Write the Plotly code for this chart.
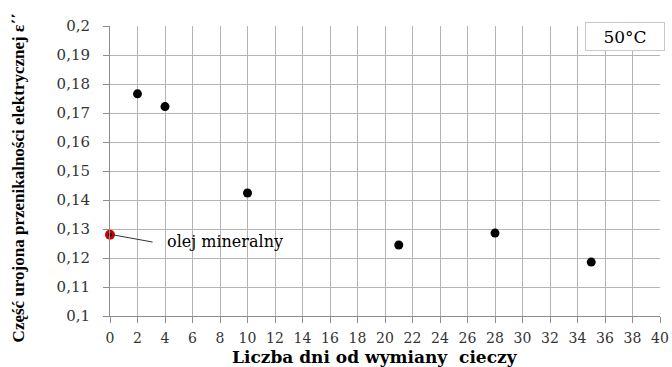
import plotly.graph_objects as go

days = [2, 4, 10, 21, 28, 35]
eps = [0.1766, 0.1722, 0.1424, 0.1245, 0.1286, 0.1186]
ref_day = [0]
ref_eps = [0.128]

xticks = list(range(0, 41, 2))
xticktext = [str(v) for v in xticks]
yticks = [round(0.1 + 0.01 * i, 2) for i in range(11)]
yticktext = [f"{v:g}".replace(".", ",") for v in yticks]

SERIF = "DejaVu Serif, serif"
TIMES = "Liberation Serif, Times New Roman, serif"

fig = go.Figure()
fig.add_trace(go.Scatter(x=days, y=eps, mode="markers",
                         marker=dict(color="black", size=9, symbol="circle"),
                         showlegend=False, cliponaxis=False))
fig.add_trace(go.Scatter(x=ref_day, y=ref_eps, mode="markers",
                         marker=dict(color="#d00000", size=10, symbol="circle"),
                         showlegend=False, cliponaxis=False))
fig.add_trace(go.Scatter(x=ref_day, y=ref_eps, mode="markers",
                         marker=dict(color="#200000", size=4, symbol="circle"),
                         showlegend=False, cliponaxis=False))

fig.add_shape(type="line", x0=0.2, y0=ref_eps[0], x1=3.1, y1=0.1255,
              line=dict(color="#333333", width=1))
fig.add_annotation(x=4.0, y=0.1258, text="olej mineralny", showarrow=False,
                   xanchor="left", yanchor="middle",
                   font=dict(family=SERIF, size=16, color="black"))
fig.add_annotation(xref="paper", yref="paper", x=1.009, y=1.014,
                   xanchor="right", yanchor="top", text="50°C", showarrow=False,
                   width=78, height=27, borderpad=0, bgcolor="white",
                   bordercolor="#c8c8c8", borderwidth=1,
                   font=dict(family=SERIF, size=17, color="black"))
# axis titles as positioned text
fig.add_annotation(xref="paper", yref="paper", x=-0.167, y=0.475,
                   xanchor="center", yanchor="middle", textangle=-90,
                   text="<b>Część urojona przenikalności elektrycznej ε΄΄</b>",
                   showarrow=False,
                   font=dict(family=TIMES, size=17, color="black"))
fig.add_annotation(xref="paper", yref="paper", x=0.482, y=-0.143,
                   xanchor="center", yanchor="middle",
                   text="<b>Liczba dni od wymiany  cieczy</b>",
                   showarrow=False,
                   font=dict(family=SERIF, size=17, color="black"))

fig.update_layout(
    width=672, height=367,
    margin=dict(l=110, r=12, t=26, b=51),
    paper_bgcolor="white", plot_bgcolor="white",
    font=dict(family=SERIF, color="#222222"),
    xaxis=dict(range=[0, 40], tickvals=xticks, ticktext=xticktext,
               showgrid=True, gridcolor="#b4b4b4", gridwidth=1,
               showline=True, linecolor="#8c8c8c", linewidth=1,
               ticks="outside", ticklen=6, tickcolor="#8c8c8c",
               tickfont=dict(family=SERIF, size=14, color="#333333"),
               zeroline=False, ticklabelstandoff=3, automargin=False),
    yaxis=dict(range=[0.1, 0.2], tickvals=yticks, ticktext=yticktext,
               showgrid=True, gridcolor="#b4b4b4", gridwidth=1,
               showline=True, linecolor="#8c8c8c", linewidth=1,
               ticks="outside", ticklen=6, tickcolor="#8c8c8c",
               tickfont=dict(family=SERIF, size=15, color="#333333"),
               zeroline=False, ticklabelstandoff=10, automargin=False),
)
fig.write_html("out.html")
